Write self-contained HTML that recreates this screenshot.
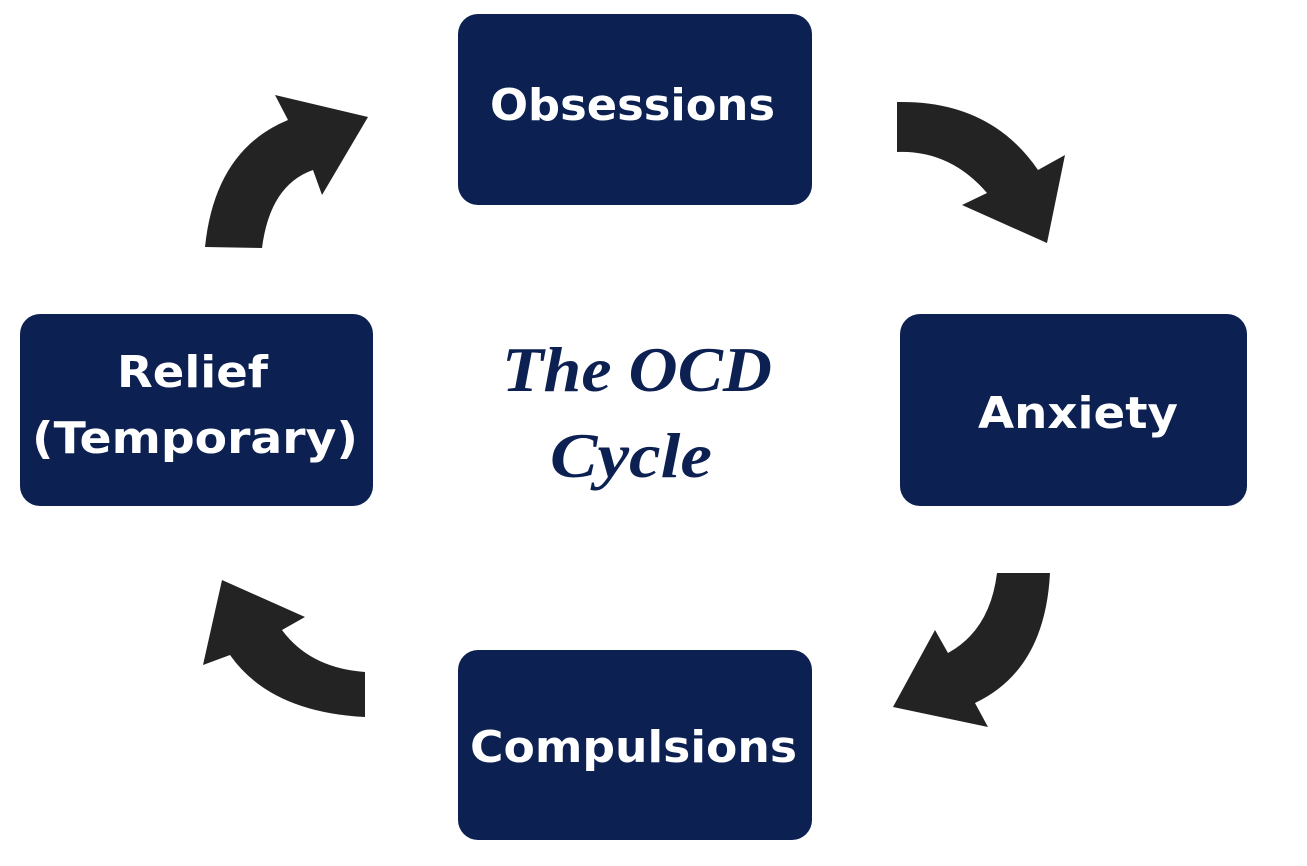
<!DOCTYPE html>
<html><head><meta charset="utf-8"><style>html,body{margin:0;padding:0;background:#fff}svg{display:block}</style></head>
<body>
<svg width="1307" height="866" viewBox="0 0 1307 866" xmlns="http://www.w3.org/2000/svg">
<g fill="#0c2152">
<rect x="458" y="14" width="354" height="191" rx="20"/>
<rect x="20" y="314" width="353" height="192" rx="20"/>
<rect x="900" y="314" width="347" height="192" rx="20"/>
<rect x="458" y="650" width="354" height="190" rx="20"/>
</g>
<g fill="#232323">
<path d="M205,247 Q215,150 288,120 L275,95 L368,117 L322,195 L313,170 Q270,185 262,248 Z"/>
<path d="M897,102 Q990,100 1038,170 L1065,155 L1047,243 L962,205 L987,193 Q950,150 897,152 Z"/>
<path d="M1050,573 Q1045,670 975,703 L988,727 L893,707 L935,630 L948,653 Q990,630 997,573 Z"/>
<path d="M222,580 L305,617 L282,630 Q310,668 365,672 L365,717 Q270,712 230,655 L203,665 Z"/>
</g>
<g fill="#fff" font-family="'DejaVu Sans','Liberation Sans',sans-serif" font-weight="bold" font-size="44">
<text x="490" y="120" textLength="285" lengthAdjust="spacingAndGlyphs">Obsessions</text>
<text x="978" y="428" textLength="200" lengthAdjust="spacingAndGlyphs">Anxiety</text>
<text x="470" y="762" textLength="327" lengthAdjust="spacingAndGlyphs">Compulsions</text>
<text x="117" y="387" textLength="151" lengthAdjust="spacingAndGlyphs">Relief</text>
<text x="32" y="453" textLength="326" lengthAdjust="spacingAndGlyphs">(Temporary)</text>
</g>
<g fill="#0c2152" font-family="'Liberation Serif',serif" font-weight="bold" font-style="italic" font-size="64">
<text x="502" y="391" textLength="270" lengthAdjust="spacingAndGlyphs">The OCD</text>
<text x="550" y="477" textLength="162" lengthAdjust="spacingAndGlyphs">Cycle</text>
</g>
</svg>
</body></html>
